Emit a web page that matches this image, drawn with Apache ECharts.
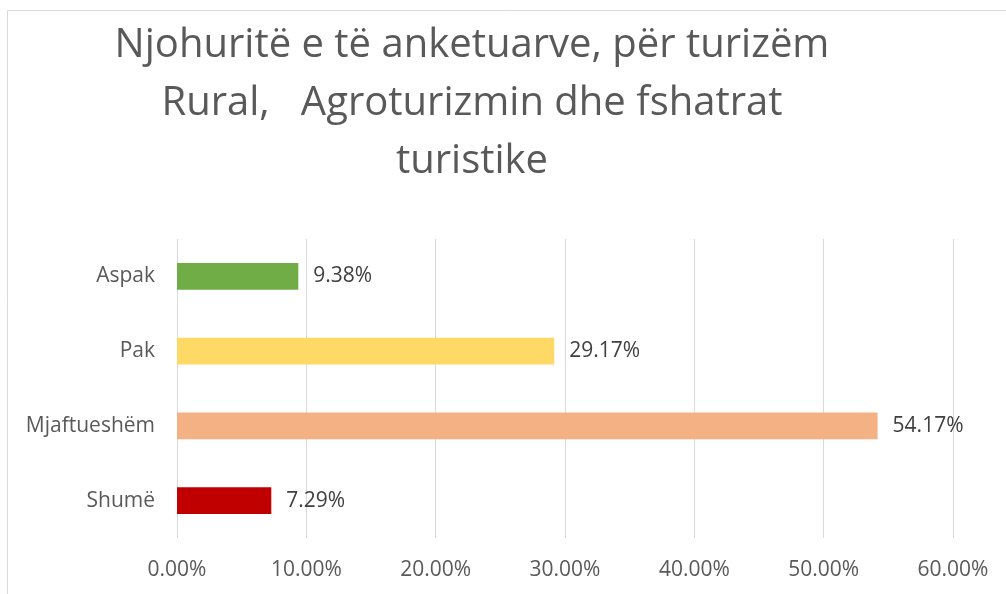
<!DOCTYPE html>
<html>
<head>
<meta charset="utf-8">
<script src="https://cdn.jsdelivr.net/npm/echarts@6/dist/echarts.min.js"></script>
<style>
  html, body { margin: 0; padding: 0; background: #fff; }
  #main { width: 1006px; height: 594px; }
</style>
</head>
<body>
<div id="main"></div>
<script>
    "use strict";
    // categories, bottom to top as the y axis draws them
    var categories = ['Shumë', 'Mjaftueshëm', 'Pak', 'Aspak'];
    var values = [7.29, 54.17, 29.17, 9.38];
    var barColors = ['#C00000', '#F4B183', '#FFD966', '#70AD47'];
    var tickMax = 60;
    var tickStep = 10;

    var chart1 = echarts.init(document.getElementById('main'));

    var option = {
        backgroundColor: '#fff',
        textStyle: { fontFamily: 'Open Sans' },
        // thin frame around the chart area
        graphic: [{
            type: 'rect',
            shape: { x: 7.5, y: 10.5, width: 1100, height: 700 },
            style: { fill: 'none', stroke: '#d9d9d9', lineWidth: 1 },
            silent: true
        }],
        title: {
            text: 'Njohuritë e të anketuarve, për turizëm\nRural,   Agroturizmin dhe fshatrat\nturistike',
            left: 467,
            top: 12,
            textAlign: 'center',
            textStyle: {
                color: '#595959',
                fontSize: 40,
                fontWeight: 'normal',
                lineHeight: 58,
                fontFamily: 'Open Sans'
            }
        },
        grid: { left: 177, right: 53, top: 239, bottom: 56 },
        xAxis: {
            type: 'value',
            min: 0,
            max: tickMax,
            interval: tickStep,
            axisLine: { show: false },
            axisTick: { show: false },
            splitLine: { lineStyle: { color: '#d9d9d9', width: 1 } },
            axisLabel: {
                color: '#595959',
                fontSize: 21,
                margin: 22,
                formatter: function (v) { return v.toFixed(2) + '%'; }
            }
        },
        yAxis: {
            type: 'category',
            data: categories,
            axisLine: { show: false },
            axisTick: { show: false },
            axisLabel: { color: '#595959', fontSize: 21, margin: 22 }
        },
        series: [{
            type: 'bar',
            barWidth: '36%',
            data: values.map(function (v, i) {
                return { value: v, itemStyle: { color: barColors[i] } };
            }),
            label: {
                show: true,
                position: 'right',
                distance: 15,
                color: '#404040',
                fontSize: 21,
                formatter: function (p) { return p.value.toFixed(2) + '%'; }
            },
            animation: false
        }],
        animation: false
    };

    chart1.setOption(option);
</script>
</body>
</html>
